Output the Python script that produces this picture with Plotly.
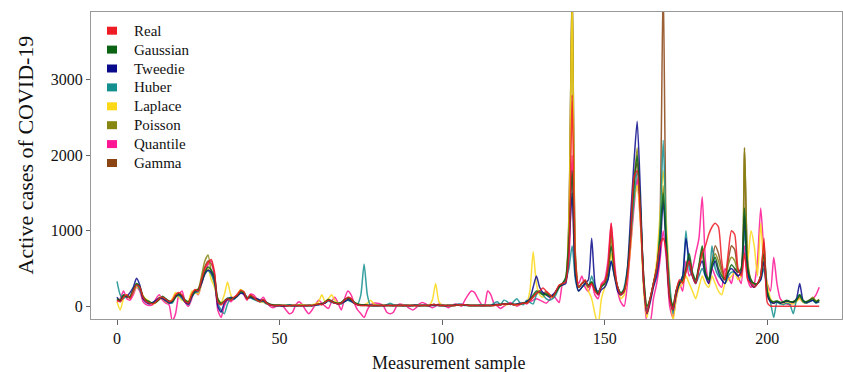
import plotly.graph_objects as go

samples = list(range(217))

real = [80, 60, 120, 150, 100, 200, 280, 250, 120, 60,
        40, 30, 60, 100, 120, 90, 60, 80, 150, 180,
        150, 60, 40, 160, 220, 200, 350, 500, 580, 620,
        450, 50, 20, 60, 100, 80, 120, 150, 210, 190,
        90, 150, 120, 80, 60, 90, 40, 20, 10, 10,
        10, 10, 5, 5, 10, 10, 5, 5, 10, 10,
        10, 20, 30, 20, 50, 80, 60, 40, 30, 40,
        80, 120, 100, 40, 20, 10, 10, 10, 10, 10,
        10, 10, 10, 10, 10, 10, 10, 10, 10, 10,
        10, 10, 10, 10, 10, 10, 10, 20, 20, 10,
        10, 10, 10, 10, 10, 20, 20, 20, 10, 10,
        10, 10, 10, 10, 10, 10, 10, 20, 20, 30,
        30, 30, 20, 20, 30, 40, 40, 80, 120, 170,
        200, 240, 200, 160, 120, 200, 280, 300, 320, 700,
        2800, 600, 250, 300, 350, 250, 300, 200, 150, 280,
        320, 500, 1100, 500, 250, 150, 200, 400, 900, 1700,
        1800, 1200, 300, -100, 100, 300, 500, 800, 900, 700,
        100, -50, 200, 350, 300, 450, 600, 400, 300, 500,
        700, 800, 950, 1050, 1100, 1050, 600, 350, 700, 1000,
        950, 500, 400, 700, 350, 300, 250, 300, 400, 900,
        50, 0, 0, 0, 0, 0, 0, 0, 0, 0,
        0, 0, 0, 0, 0, 0, 0]

gaussian = [100, 80, 150, 120, 130, 220, 300, 260, 130, 80,
            60, 40, 50, 90, 130, 100, 70, 60, 120, 160,
            140, 80, 60, 140, 200, 220, 330, 450, 520, 480,
            380, 100, 40, 70, 110, 100, 110, 140, 190, 180,
            110, 130, 110, 90, 70, 80, 50, 30, 20, 15,
            15, 10, 10, 10, 10, 10, 10, 10, 10, 10,
            10, 20, 30, 30, 60, 90, 70, 50, 40, 50,
            90, 110, 90, 50, 30, 20, 20, 15, 10, 10,
            10, 10, 10, 10, 10, 10, 10, 10, 10, 10,
            10, 10, 10, 10, 10, 10, 10, 20, 20, 15,
            10, 10, 10, 10, 10, 20, 20, 20, 15, 10,
            10, 10, 10, 10, 10, 10, 15, 20, 25, 30,
            30, 30, 25, 25, 30, 40, 50, 90, 150, 200,
            180, 150, 160, 140, 130, 180, 250, 300, 380, 900,
            1800, 500, 250, 300, 330, 280, 320, 220, 180, 260,
            300, 450, 800, 450, 250, 180, 220, 450, 1000, 1600,
            2000, 1300, 400, 0, 100, 300, 500, 900, 1500, 800,
            150, 0, 200, 300, 350, 500, 700, 450, 350, 550,
            800, 450, 350, 550, 650, 500, 400, 350, 450, 550,
            500, 450, 500, 1300, 500, 350, 300, 300, 400, 700,
            200, 80, 60, 70, 50, 60, 80, 60, 60, 80,
            150, 70, 60, 80, 100, 60, 80]

tweedie = [120, 60, 140, 130, 180, 250, 370, 280, 100, 50,
           30, 50, 80, 110, 100, 70, 40, 60, 130, 150,
           120, 50, 30, 130, 190, 210, 300, 420, 480, 450,
           350, 0, -80, 40, 90, 120, 100, 130, 170, 160,
           100, 120, 100, 100, 80, 70, 40, 20, 10, 5,
           5, 0, 5, 10, 5, 5, 10, 5, 5, 10,
           5, 15, 20, 30, 40, 80, 60, 40, 30, 40,
           60, 90, 70, 40, 20, 15, 20, 10, 10, 5,
           5, 10, 5, 10, 10, 5, 10, 10, 5, 10,
           5, 10, 10, 5, 10, 10, 5, 20, 15, 10,
           10, 5, 10, 10, 15, 20, 25, 15, 10, 10,
           10, 10, 5, 10, 10, 10, 20, 25, 20, 30,
           25, 30, 20, 30, 40, 40, 60, 100, 250, 400,
           250, 180, 150, 120, 150, 200, 260, 280, 300, 800,
           1500, 400, 200, 250, 300, 350, 900, 300, 150, 220,
           250, 350, 600, 400, 200, 150, 200, 500, 1200, 1900,
           2450, 1500, 300, -100, 50, 250, 400, 700, 1400, 700,
           100, -50, 150, 300, 400, 900, 600, 400, 300, 500,
           600, 400, 300, 500, 600, 450, 350, 300, 450, 500,
           450, 400, 450, 1200, 450, 300, 250, 300, 350, 600,
           150, 60, 40, 60, 40, 50, 70, 60, 50, 100,
           300, 80, 50, 60, 80, 50, 60]

huber = [330, 150, 100, 140, 120, 190, 280, 220, 110, 60,
         40, 40, 70, 100, 110, 80, 50, 40, 120, 140,
         100, 60, 20, 120, 180, 190, 310, 440, 470, 420,
         300, 50, -50, -100, 30, 100, 90, 140, 180, 170,
         120, 110, 90, 70, 60, 60, 30, 20, 10, 10,
         10, 10, 10, 20, 10, 10, 10, 10, 10, 10,
         10, 10, 20, 30, 40, 70, 50, 40, 30, 30,
         60, 80, 60, 40, 30, 150, 560, 150, 10, 10,
         10, 10, 10, 20, 40, 20, 10, 10, 10, 10,
         10, 10, 20, 10, 10, 10, 10, 10, 10, 10,
         10, 10, 10, 10, 20, 30, 20, 10, 10, 10,
         10, 10, 20, 10, 10, 10, 40, 60, 20, 80,
         60, 20, 60, 100, 40, 20, 80, 50, 30, 150,
         200, 150, 100, 80, 100, 150, 250, 300, 350, 500,
         800, 350, 200, 250, 300, 250, 400, 250, 200, 250,
         300, 350, 600, 400, 250, 150, 250, 500, 900, 1400,
         1800, 1300, 300, -100, 100, 300, 500, 1000, 2200, 900,
         300, -100, 200, 300, 400, 1000, 500, 400, 300, 400,
         500, 400, 350, 800, 500, 400, 350, 300, 400, 450,
         450, 400, 450, 1000, 450, 300, 250, 300, 350, 500,
         200, 50, -150, 50, 30, 20, 40, 20, -100, 80,
         150, 60, 40, 60, 80, 40, 60]

laplace = [60, -50, 100, 150, 120, 180, 250, 230, 140, 90,
           60, 30, 50, 120, 100, 60, 40, 100, 180, 120,
           80, 60, 70, 200, 180, 160, 300, 450, 500, 350,
           250, 100, 50, 150, 320, 150, 100, 150, 220, 180,
           100, 120, 100, 80, 60, 50, 30, 20, 10, 10,
           10, 10, 10, 10, 10, 10, 20, 20, 10, 10,
           20, 30, 60, 150, 60, 100, 150, 80, 40, 40,
           60, 90, 70, 40, 30, 20, 20, 40, 80, 30,
           10, 10, 10, 20, 10, 10, 10, 10, 10, 10,
           10, 10, 10, 10, 10, 10, 10, 80, 300, 60,
           10, 10, 10, 10, 20, 20, 20, 20, 10, 10,
           10, 10, 10, 10, 10, 10, 20, 20, 30, 20,
           20, 30, 20, 20, 30, 40, 50, 200, 720, 300,
           150, 120, 150, 130, 120, 180, 250, 280, 350, 1000,
           4100, 500, 200, 250, 300, 200, 100, -100, -250, 100,
           250, 400, 700, 400, 250, 100, 150, 400, 800, 1400,
           1600, 1100, 200, -150, 100, 300, 600, 1200, 1800, 1100,
           300, -200, 100, 250, 300, 400, 300, 200, 100, 250,
           400, 300, 250, 400, 300, 200, 150, 300, 350, 400,
           450, 350, 400, 1100, 600, 1000, 800, 400, 1100, 500,
           300, 100, 50, 60, 40, 30, 50, 40, 30, 60,
           100, 50, 40, 60, 90, 50, 60]

poisson = [90, 70, 130, 130, 110, 210, 290, 240, 110, 70,
           50, 40, 50, 90, 120, 90, 60, 70, 140, 170,
           130, 70, 50, 150, 210, 230, 400, 600, 680, 450,
           300, 60, 30, 60, 100, 90, 110, 140, 200, 180,
           100, 140, 110, 80, 60, 80, 40, 20, 10, 10,
           10, 10, 10, 10, 10, 10, 10, 10, 10, 10,
           10, 20, 30, 30, 50, 90, 60, 50, 40, 50,
           80, 110, 90, 50, 30, 20, 20, 10, 10, 10,
           10, 10, 10, 10, 10, 10, 10, 10, 10, 10,
           10, 10, 10, 10, 10, 10, 10, 20, 20, 10,
           10, 10, 10, 10, 10, 20, 20, 20, 10, 10,
           10, 10, 10, 10, 10, 10, 10, 20, 20, 30,
           30, 30, 20, 20, 30, 40, 40, 80, 130, 180,
           190, 160, 170, 150, 130, 190, 270, 300, 350, 1200,
           4200, 700, 250, 300, 330, 270, 320, 210, 170, 270,
           310, 480, 900, 480, 250, 160, 210, 420, 950, 1600,
           2100, 1200, 350, 0, 100, 300, 500, 900, 1600, 800,
           150, 0, 200, 330, 330, 480, 650, 420, 330, 520,
           750, 420, 350, 550, 700, 600, 450, 350, 550, 650,
           600, 450, 500, 2100, 600, 350, 300, 300, 400, 800,
           180, 70, 50, 70, 50, 60, 70, 60, 60, 80,
           150, 70, 60, 80, 120, 70, 90]

quantile = [50, 100, 200, 100, 80, 150, 250, 200, 60, 20,
            10, 20, 100, 150, 80, 40, 20, -200, -100, 150,
            200, 50, 0, 100, 200, 150, 300, 450, 550, 600,
            400, -50, -150, 0, 80, 60, 100, 160, 200, 150,
            80, 160, 150, 100, 80, 120, 50, 0, -20, 0,
            10, 0, -50, -100, -80, 20, 60, 20, -50, -100,
            -50, 20, 80, 40, 0, -30, 60, 120, 40, -50,
            100, 200, 150, 40, -50, -100, -150, -50, 20, 40,
            40, 30, 0, -80, -100, -80, 0, 30, 20, 0,
            -30, -50, -20, 30, 50, 30, 0, -20, 0, 30,
            20, 0, -20, 10, 30, 20, 0, 80, 150, 200,
            180, 100, 30, 0, 200, 150, 30, 0, -30, 0,
            30, 50, 30, 0, 20, 50, 30, 60, 80, 100,
            80, 60, 40, 80, 150, 100, 50, 300, 350, 600,
            2000, 400, 300, 400, 250, 200, 300, 150, 100, 300,
            350, 600, 1100, 600, 200, 50, 0, 300, 800, 1300,
            1700, 1100, 400, -200, -200, 100, 300, 600, 1000, 600,
            0, -150, 100, 300, 200, 600, 400, 500, 700, 900,
            1450, 600, 300, 500, 400, 300, 250, 500, 400, 300,
            500, 400, 300, 800, 350, 250, 300, 600, 1300, 700,
            300, 200, 650, 300, 100, 50, 30, 20, 60, 80,
            100, 60, 40, 80, 100, 150, 250]

gamma = [80, 70, 130, 140, 110, 210, 290, 250, 110, 60,
         40, 30, 60, 100, 120, 90, 60, 70, 140, 170,
         140, 60, 40, 150, 210, 210, 360, 520, 600, 560,
         420, 60, 20, 60, 100, 80, 110, 150, 210, 190,
         100, 140, 120, 80, 60, 90, 40, 20, 10, 10,
         10, 10, 10, 10, 10, 10, 10, 10, 10, 10,
         10, 20, 30, 20, 50, 80, 60, 40, 30, 40,
         80, 110, 100, 40, 20, 10, 10, 10, 10, 10,
         10, 10, 10, 10, 10, 10, 10, 10, 10, 10,
         10, 10, 10, 10, 10, 10, 10, 20, 20, 10,
         10, 10, 10, 10, 10, 20, 20, 20, 10, 10,
         10, 10, 10, 10, 10, 10, 10, 20, 20, 30,
         30, 30, 20, 20, 30, 40, 40, 80, 120, 170,
         200, 170, 190, 150, 120, 190, 270, 300, 330, 1100,
         4300, 650, 250, 300, 340, 260, 310, 210, 160, 270,
         310, 480, 1000, 480, 250, 160, 210, 420, 950, 1650,
         1900, 1250, 320, -50, 100, 300, 500, 1100, 4300, 800,
         150, -50, 200, 330, 320, 470, 620, 420, 320, 520,
         720, 420, 350, 580, 800, 700, 500, 350, 600, 800,
         750, 480, 450, 2100, 550, 330, 280, 300, 400, 850,
         150, 60, 40, 60, 40, 50, 70, 60, 50, 70,
         130, 60, 50, 70, 100, 60, 80]

series_names = ["Real", "Gaussian", "Tweedie", "Huber", "Laplace", "Poisson", "Quantile", "Gamma"]
series_values = [real, gaussian, tweedie, huber, laplace, poisson, quantile, gamma]
series_colors = ["#ee1c25", "#0a6414", "#0a0a8c", "#138f8f", "#fcd916", "#868610", "#ff1493", "#8b4513"]

x_ticks = [0, 50, 100, 150, 200]
y_ticks = [0, 1000, 2000, 3000]

FONT = "Liberation Serif, Times New Roman, serif"

W, H = 843, 372
ML, MR, MT, MB = 91, 1, 12, 53
PW, PH = W - ML - MR, H - MT - MB


def px_to_paper_x(px):
    return (px - ML) / PW


def px_to_paper_y(py):
    return (H - MB - py) / PH


fig = go.Figure()
# draw lines (reverse order so Real ends on top)
for name, vals, col in list(zip(series_names, series_values, series_colors))[::-1]:
    fig.add_trace(go.Scatter(x=samples, y=vals, mode="lines", name=name,
                             line=dict(color=col, width=1.5, shape="spline", smoothing=0.6),
                             showlegend=False, opacity=0.85))

# legend: square swatches + labels (compact spacing like the reference)
shapes = []
annotations = []
legend_top_px = 30.7
legend_step_px = 18.9
for i, (name, col) in enumerate(zip(series_names, series_colors)):
    cy = legend_top_px + i * legend_step_px
    shapes.append(dict(type="rect", xref="paper", yref="paper",
                       x0=px_to_paper_x(107), x1=px_to_paper_x(117),
                       y0=px_to_paper_y(cy + 4), y1=px_to_paper_y(cy - 4),
                       fillcolor=col, line=dict(width=0)))
    annotations.append(dict(text=name, xref="paper", yref="paper",
                            x=px_to_paper_x(132), y=px_to_paper_y(cy),
                            xanchor="left", yanchor="middle", showarrow=False,
                            font=dict(family=FONT, size=15, color="#111")))

annotations.append(dict(text="Measurement sample", x=px_to_paper_x(448), y=px_to_paper_y(363),
                        xref="paper", yref="paper", showarrow=False,
                        font=dict(family=FONT, size=18, color="#111"),
                        xanchor="center", yanchor="middle"))
annotations.append(dict(text="Active cases of COVID-19", x=px_to_paper_x(25), y=px_to_paper_y(155.5),
                        xref="paper", yref="paper", showarrow=False, textangle=-90,
                        font=dict(family=FONT, size=22, color="#111"),
                        xanchor="center", yanchor="middle"))

fig.update_layout(
    width=W, height=H,
    margin=dict(l=ML, r=MR, t=MT, b=MB),
    paper_bgcolor="white", plot_bgcolor="white",
    font=dict(family=FONT, size=16, color="#111"),
    showlegend=False,
    xaxis=dict(range=[-8, 223], tickvals=x_ticks, ticktext=[str(v) for v in x_ticks],
               showgrid=False, zeroline=False, showline=True, linecolor="#999",
               linewidth=1, mirror=True, ticks="outside", ticklen=5, tickcolor="#666",
               tickfont=dict(size=16)),
    yaxis=dict(range=[-170, 3900], tickvals=y_ticks, ticktext=[str(v) for v in y_ticks],
               showgrid=False, zeroline=False, showline=True, linecolor="#999",
               linewidth=1, mirror=True, ticks="outside", ticklen=4, tickcolor="#666",
               tickfont=dict(size=16)),
    shapes=shapes,
    annotations=annotations,
)

fig.write_html("out.html",
               config={"displayModeBar": False},
               post_script="document.body.style.margin='0';document.body.style.overflow='hidden';")
